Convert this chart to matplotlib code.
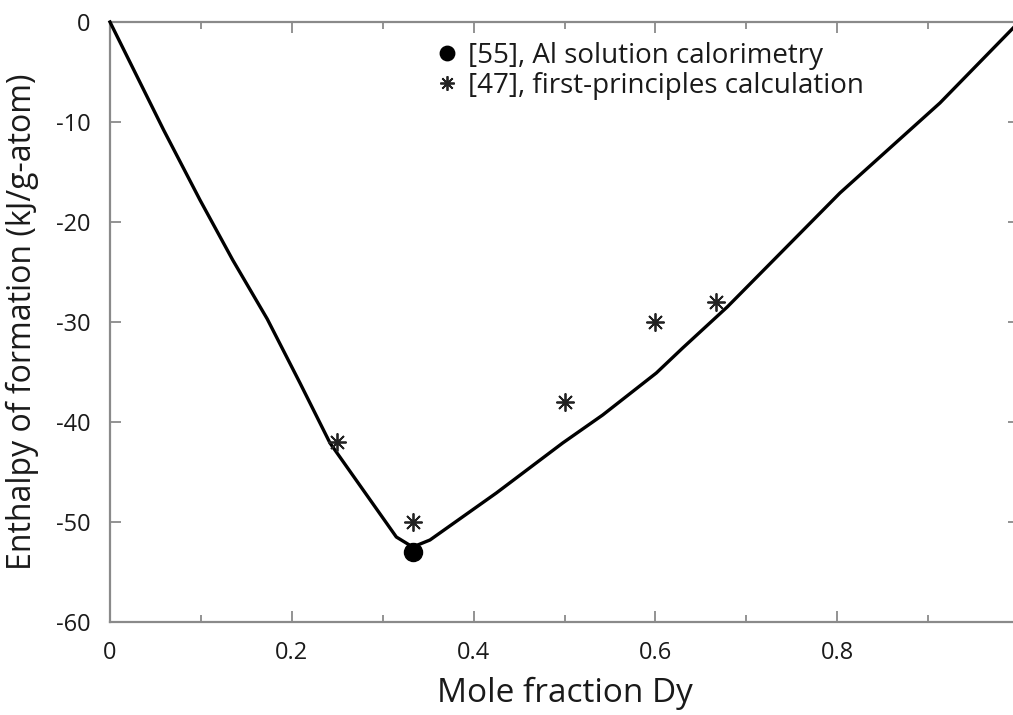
import numpy as np
import matplotlib.pyplot as plt
from matplotlib.ticker import MultipleLocator

plt.rcParams['font.family'] = ['Open Sans', 'DejaVu Sans']

# calculated enthalpy of formation curve
calc_x = [0.0, 0.059, 0.099, 0.135, 0.173, 0.209, 0.242, 0.315, 0.333,
          0.352, 0.425, 0.498, 0.542, 0.601, 0.630, 0.679, 0.803, 0.913, 1.0]
calc_y = [0.0, -10.8, -17.8, -23.8, -29.7, -36.1, -42.1, -51.5, -52.5,
          -51.8, -47.1, -42.1, -39.3, -35.1, -32.6, -28.5, -17.1, -8.1, 0.0]

# [55] Al solution calorimetry
exp_x = [0.333]
exp_y = [-53.0]

# [47] first-principles calculation
fp_x = [0.25, 0.333, 0.5, 0.6, 0.667]
fp_y = [-42.0, -50.0, -38.0, -30.0, -28.0]

fig = plt.figure(figsize=(10.13, 7.15), dpi=100)
ax = fig.add_axes([110 / 1013, 93 / 715, 909 / 1013, 600 / 715])

ax.plot(calc_x, calc_y, color='black', linewidth=2.4, zorder=3, clip_on=False)
h1, = ax.plot(exp_x, exp_y, 'o', color='black', markersize=13, zorder=4,
              label='[55], Al solution calorimetry')
h2, = ax.plot(fp_x, fp_y, linestyle='none', marker=(8, 2, 0), color='#222222',
              markersize=13, markeredgewidth=1.3, zorder=4,
              label='[47], first-principles calculation')

ax.set_xlim(0, 1)
ax.set_ylim(-60, 0)
ax.xaxis.set_minor_locator(MultipleLocator(0.1))
ax.set_xticks([0, 0.2, 0.4, 0.6, 0.8])
ax.set_xticklabels(['0', '0.2', '0.4', '0.6', '0.8'])
ax.set_yticks([0, -10, -20, -30, -40, -50, -60])
ax.set_yticklabels(['0', '-10', '-20', '-30', '-40', '-50', '-60'])

gray = '#8a8a8a'
for s in ax.spines.values():
    s.set_color(gray)
    s.set_linewidth(1.6)
ax.tick_params(which='both', direction='in', top=True, right=True, color=gray,
               labelcolor='#1a1a1a', labelsize=17)
ax.tick_params(axis='x', which='major', length=8, width=1.3, pad=14)
ax.tick_params(axis='x', which='minor', length=5, width=1.3)
ax.tick_params(axis='y', which='major', length=8, width=1.3, pad=14)

ax.set_xlabel('Mole fraction Dy', fontsize=24, color='#1a1a1a', labelpad=8)
ax.set_ylabel('Enthalpy of formation (kJ/g-atom)', fontsize=23, color='#1a1a1a',
              labelpad=12)

leg = ax.legend(handles=[h1, h2], loc='upper left', bbox_to_anchor=(0.348, 0.985),
                frameon=False, fontsize=20, handlelength=0.7, handletextpad=0.4,
                labelspacing=0.05, borderaxespad=0.0, markerscale=0.8)
for t in leg.get_texts():
    t.set_color('#1a1a1a')

fig.savefig('out.png', dpi=100)
